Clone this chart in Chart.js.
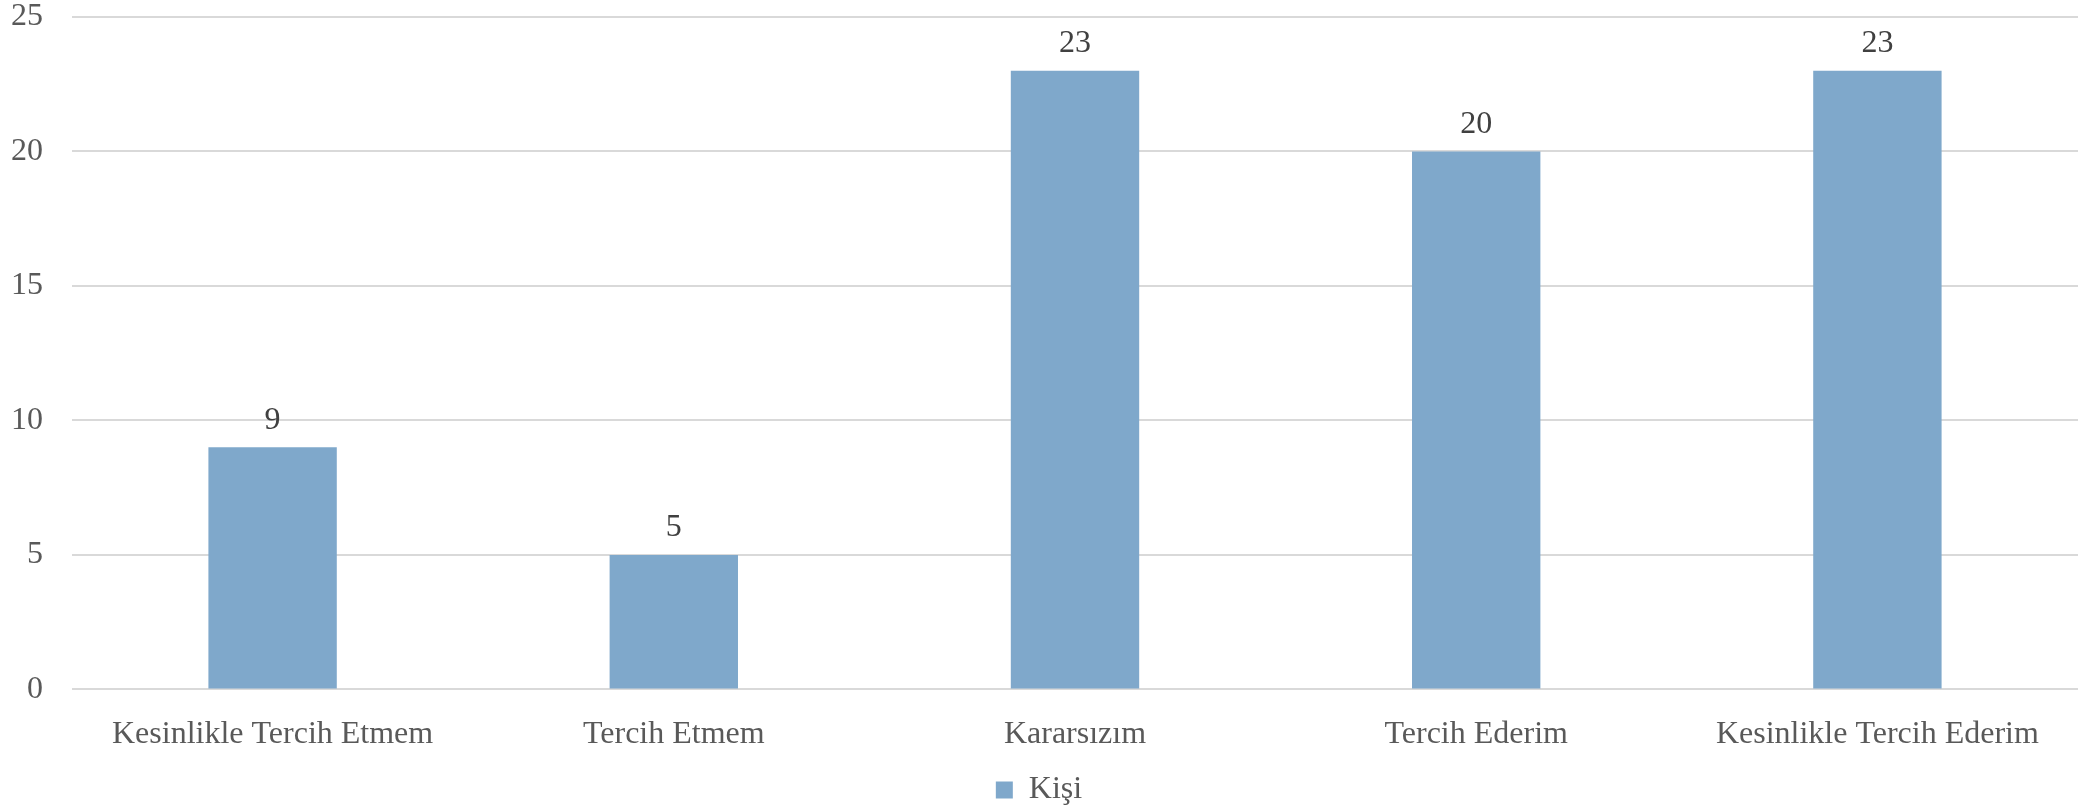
<!DOCTYPE html>
<html>
<head>
<meta charset="utf-8">
<script src="https://cdn.jsdelivr.net/npm/chart.js@4/dist/chart.umd.min.js"></script>
<style>
  html, body { margin: 0; padding: 0; background: #fff; }
  #wrap { width: 2092px; height: 810px; }
</style>
</head>
<body>
<div id="wrap"><canvas id="chart"></canvas></div>
<script>
var categories = ['Kesinlikle Tercih Etmem', 'Tercih Etmem', 'Kararsızım', 'Tercih Ederim', 'Kesinlikle Tercih Ederim'];
var seriesName = 'Kişi';
var values = [9, 5, 23, 20, 23];
var yTicks = [0, 5, 10, 15, 20, 25];

var FONT = '"Liberation Serif", "Times New Roman", serif';

// draws the number above each bar
var valueLabels = {
    id: 'valueLabels',
    afterDatasetsDraw: function (chart) {
        var ctx = chart.ctx;
        var meta = chart.getDatasetMeta(0);
        ctx.save();
        ctx.font = '32px ' + FONT;
        ctx.fillStyle = '#404040';
        ctx.textAlign = 'center';
        ctx.textBaseline = 'middle';
        meta.data.forEach(function (bar, i) {
            ctx.fillText(String(values[i]), bar.x, bar.y - 27);
        });
        ctx.restore();
    }
};

new Chart(document.getElementById('chart'), {
    type: 'bar',
    data: {
        labels: categories,
        datasets: [{
            label: seriesName,
            data: values,
            backgroundColor: '#7fa8cb',
            borderWidth: 0,
            categoryPercentage: 1,
            barPercentage: 0.32
        }]
    },
    options: {
        responsive: true,
        maintainAspectRatio: false,
        animation: false,
        layout: { padding: { left: 0, right: 14, top: 0, bottom: -6 } },
        plugins: {
            legend: {
                position: 'bottom',
                labels: {
                    color: '#595959',
                    font: { family: FONT, size: 32 },
                    boxWidth: 17, boxHeight: 17,
                    padding: 1
                }
            },
            tooltip: { enabled: false }
        },
        scales: {
            x: {
                afterFit: function (scale) { scale.height = 83.6; },
                grid: { display: false },
                border: { display: false },
                ticks: { color: '#595959', font: { family: FONT, size: 32 }, padding: 18, maxRotation: 0 }
            },
            y: {
                min: 0, max: 25,
                afterBuildTicks: function (scale) {
                    scale.ticks = yTicks.map(function (v) { return { value: v }; });
                },
                afterFit: function (scale) {
                    scale.width = 72;
                    scale.paddingTop = 17;
                    scale.paddingBottom = 0;
                },
                grid: { color: '#d9d9d9', lineWidth: 2, drawTicks: false },
                border: { display: false },
                ticks: { color: '#595959', font: { family: FONT, size: 32 }, padding: 29 }
            }
        }
    },
    plugins: [valueLabels]
});
</script>
</body>
</html>
